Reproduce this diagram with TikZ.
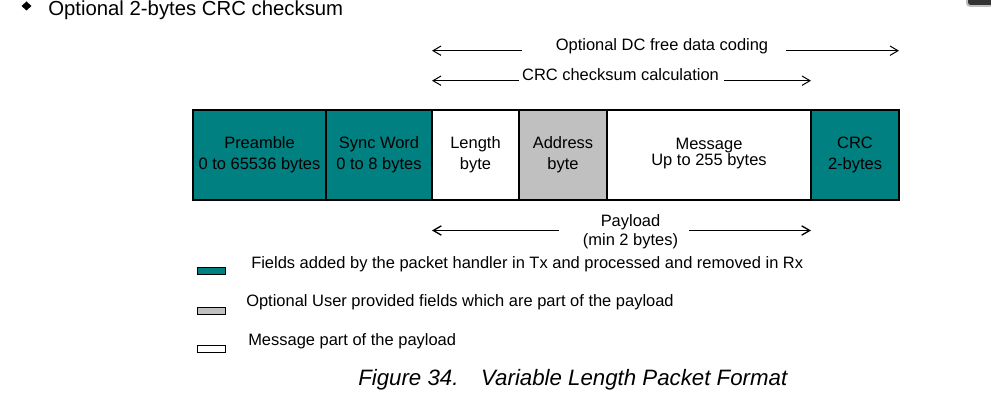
\documentclass[tikz,border=0pt]{standalone}
\usepackage{fontspec}
\setmainfont{Liberation Sans}
\usetikzlibrary{arrows.meta,positioning}
\definecolor{pkteal}{HTML}{008080}
\definecolor{pkgray}{HTML}{C0C0C0}
\definecolor{pkdark}{HTML}{333333}
\tikzset{
  every picture/.style={line join=miter, >={Straight Barb[length=6pt,width=7pt]}},
  field/.style={draw, line width=0.9pt, minimum height=67.5pt, inner sep=0pt, outer sep=0pt,
    align=center, font=\fontsize{12.35}{15.5}\selectfont},
  span/.style={line width=0.75pt},
  lbl/.style={inner sep=0pt, font=\fontsize{12.35}{14.25}\selectfont},
  keybox/.style={draw, line width=0.75pt, minimum width=21pt, minimum height=5pt, inner sep=0pt},
}
\begin{document}
\begin{tikzpicture}[x=0.75pt,y=-0.75pt]
\useasboundingbox (0,0) rectangle (991,413);
% screen corner
\fill[black!25,rounded corners=3pt] (966,-6) rectangle (996,7);
\fill[pkdark,rounded corners=2pt] (968,-6) rectangle (996,5);
% heading
\fill (26.5,1.5) -- (31.5,6) -- (26.5,10.5) -- (21.5,6) -- cycle;
\node[anchor=base west,inner sep=0pt,font=\fontsize{15.25}{18}\selectfont] (head) at (48,16) {Optional 2-bytes CRC checksum};
% packet fields
\node[field,fill=pkteal,minimum width=99.75pt,anchor=north west] (pre) at (193,110) {Preamble\\0 to 65536 bytes};
\node[field,fill=pkteal,minimum width=79.5pt,right=0pt of pre] (sync) {Sync Word\\0 to 8 bytes};
\node[field,fill=white,minimum width=65.25pt,right=0pt of sync] (len) {Length\\byte};
\node[field,fill=pkgray,minimum width=66pt,right=0pt of len] (addr) {Address\\byte};
\node[field,fill=white,minimum width=153pt,right=0pt of addr,
  label={[lbl,align=center,yshift=0.75pt,font=\fontsize{12.35}{12}\selectfont]center:Message\\Up to 255 bytes}] (msg) {};
\node[field,fill=pkteal,minimum width=66pt,right=0pt of msg] (crc) {CRC\\2-bytes};
% spans over the fields
\node[lbl,anchor=base] (dc) at (662,50.7) {Optional DC free data coding};
\draw[span,->] ([xshift=-25.5pt]dc.base west) -- (len.west |- dc.base);
\draw[span,->] ([xshift=13.5pt]dc.base east) -- (crc.east |- dc.base);
\node[lbl,anchor=base] (chk) at (620.5,80.7) {CRC checksum calculation};
\draw[span,->] ([xshift=-2.25pt]chk.base west) -- (len.west |- chk.base);
\draw[span,->] ([xshift=3.75pt]chk.base east) -- (crc.west |- chk.base);
\node[lbl,align=center] (pay) at (630.5,231.5) {Payload\\(min 2 bytes)};
\draw[line width=1pt,->] ([xshift=-18pt,yshift=0.75pt]pay.west) -- (len.west |- 0,230.5);
\draw[line width=1pt,->] ([xshift=8.25pt,yshift=0.75pt]pay.east) -- (crc.west |- 0,230.5);
% legend
\node[keybox,fill=pkteal] (kadd) at (211.5,271) {};
\node[keybox,fill=pkgray] (kopt) at (211.5,311) {};
\node[keybox,fill=white] (kmsg) at (211.5,349) {};
\node[lbl,anchor=west] (tadd) at (251,264) {Fields added by the packet handler in Tx and processed and removed in Rx};
\node[lbl,anchor=west] (topt) at (246,302) {Optional User provided fields which are part of the payload};
\node[lbl,anchor=west] (tmsg) at (248,341) {Message part of the payload};
% caption
\node[anchor=base west,inner sep=0pt,font=\fontsize{16.7}{18}\selectfont\itshape] (cap) at (358,385) {Figure 34.\hspace{17pt}Variable Length Packet Format};
\end{tikzpicture}
\end{document}
